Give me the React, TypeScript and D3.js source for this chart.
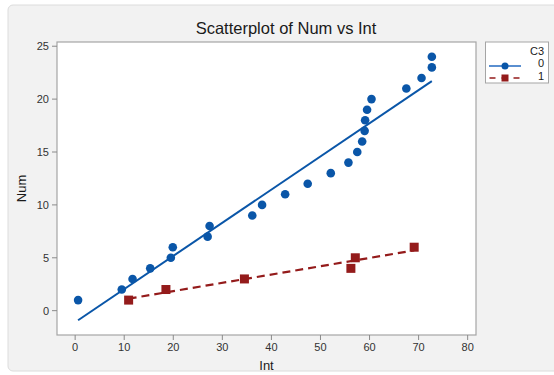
import * as d3 from "d3";
import React from "react";

// group 0 (C3 = 0)
const intG0 = [0.6, 9.5, 11.7, 15.3, 19.5, 19.9, 27, 27.4, 36.1, 38.1, 42.8, 47.4, 52.1, 55.7, 57.5, 58.5, 59.0, 59.1, 59.5, 60.4, 67.5, 70.6, 72.7, 72.7];
const numG0 = [1, 2, 3, 4, 5, 6, 7, 8, 9, 10, 11, 12, 13, 14, 15, 16, 17, 18, 19, 20, 21, 22, 23, 24];
// group 1 (C3 = 1)
const intG1 = [10.9, 18.5, 34.5, 56.2, 57.1, 69.1];
const numG1 = [1, 2, 3, 4, 5, 6];

const xTicks = [0, 10, 20, 30, 40, 50, 60, 70, 80];
const yTicks = [0, 5, 10, 15, 20, 25];
const groupLabels = ["0", "1"];

const W = 554;
const H = 375;
const plot = { left: 57, right: 476, top: 42, bottom: 335 };
const BLUE = "#0a56a8";
const RED = "#941b1b";
const FONT = "'Liberation Sans', Arial, sans-serif";

function fitLine(xs: number[], ys: number[]) {
  const mx = d3.mean(xs) as number;
  const my = d3.mean(ys) as number;
  let sxy = 0;
  let sxx = 0;
  xs.forEach((x, i) => {
    sxy += (x - mx) * (ys[i] - my);
    sxx += (x - mx) * (x - mx);
  });
  const b = sxy / sxx;
  const a = my - b * mx;
  const [x0, x1] = d3.extent(xs) as [number, number];
  return [
    [x0, a + b * x0],
    [x1, a + b * x1],
  ];
}

export default function App() {
  const x = d3.scaleLinear().domain([-3.7, 81.7]).range([plot.left, plot.right]);
  const y = d3.scaleLinear().domain([-2.3, 25.4]).range([plot.bottom, plot.top]);
  const line = d3
    .line<number[]>()
    .x((d) => x(d[0]))
    .y((d) => y(d[1]));

  const fit0 = fitLine(intG0, numG0);
  const fit1 = fitLine(intG1, numG1);
  const sq = 9;

  return (
    <svg
      width={W}
      height={H}
      style={{ position: "absolute", left: 0, top: 0, fontFamily: FONT }}
    >
      <rect x={0} y={0} width={W} height={H} fill="#ffffff" />
      <rect x={8} y={5} width={570} height={366} rx={5} fill="#f2f2f2" stroke="#dcdcdc" />
      <text x={286} y={34} textAnchor="middle" fontSize={16.5} fill="#1a1a1a">
        Scatterplot of Num vs Int
      </text>

      {/* plot area */}
      <rect
        x={plot.left}
        y={plot.top}
        width={plot.right - plot.left}
        height={plot.bottom - plot.top}
        fill="#ffffff"
        stroke="#a5a5a5"
        strokeWidth={1.2}
      />

      {/* x axis */}
      {xTicks.map((t) => (
        <g key={"x" + t}>
          <line x1={x(t)} x2={x(t)} y1={plot.bottom} y2={plot.bottom + 5} stroke="#8a8a8a" />
          <text x={x(t)} y={plot.bottom + 16} textAnchor="middle" fontSize={11} fill="#333">
            {t}
          </text>
        </g>
      ))}
      {/* y axis */}
      {yTicks.map((t) => (
        <g key={"y" + t}>
          <line x1={plot.left - 5} x2={plot.left} y1={y(t)} y2={y(t)} stroke="#8a8a8a" />
          <text x={plot.left - 8} y={y(t) + 4} textAnchor="end" fontSize={11} fill="#333">
            {t}
          </text>
        </g>
      ))}
      <text x={(plot.left + plot.right) / 2} y={370} textAnchor="middle" fontSize={13} fill="#1a1a1a">
        Int
      </text>
      <text
        transform={`translate(26,${(plot.top + plot.bottom) / 2}) rotate(-90)`}
        textAnchor="middle"
        fontSize={13}
        fill="#1a1a1a"
      >
        Num
      </text>

      {/* fit lines */}
      <path d={line(fit0) as string} fill="none" stroke={BLUE} strokeWidth={2} />
      <path d={line(fit1) as string} fill="none" stroke={RED} strokeWidth={2.2} strokeDasharray="8,5" />

      {/* points */}
      {intG0.map((v, i) => (
        <circle key={"p0" + i} cx={x(v)} cy={y(numG0[i])} r={4.3} fill={BLUE} />
      ))}
      {intG1.map((v, i) => (
        <rect key={"p1" + i} x={x(v) - sq / 2} y={y(numG1[i]) - sq / 2} width={sq} height={sq} fill={RED} />
      ))}

      {/* legend */}
      <rect x={485.5} y={42} width={63} height={41} fill="#ffffff" stroke="#a5a5a5" />
      <text x={544} y={55} textAnchor="end" fontSize={11} fill="#1a1a1a">C3</text>
      <line x1={489} x2={521} y1={66} y2={66} stroke="#5a8fd0" strokeWidth={2} />
      <circle cx={505} cy={66} r={3.5} fill={BLUE} />
      <text x={544} y={67} textAnchor="end" fontSize={11} fill="#1a1a1a">{groupLabels[0]}</text>
      <line x1={489} x2={521} y1={78} y2={78} stroke={RED} strokeWidth={1.5} strokeDasharray="6,6" strokeDashoffset={-0.5} />
      <rect x={501.5} y={74.5} width={7} height={7} fill={RED} />
      <text x={544} y={80} textAnchor="end" fontSize={11} fill="#1a1a1a">{groupLabels[1]}</text>
    </svg>
  );
}
